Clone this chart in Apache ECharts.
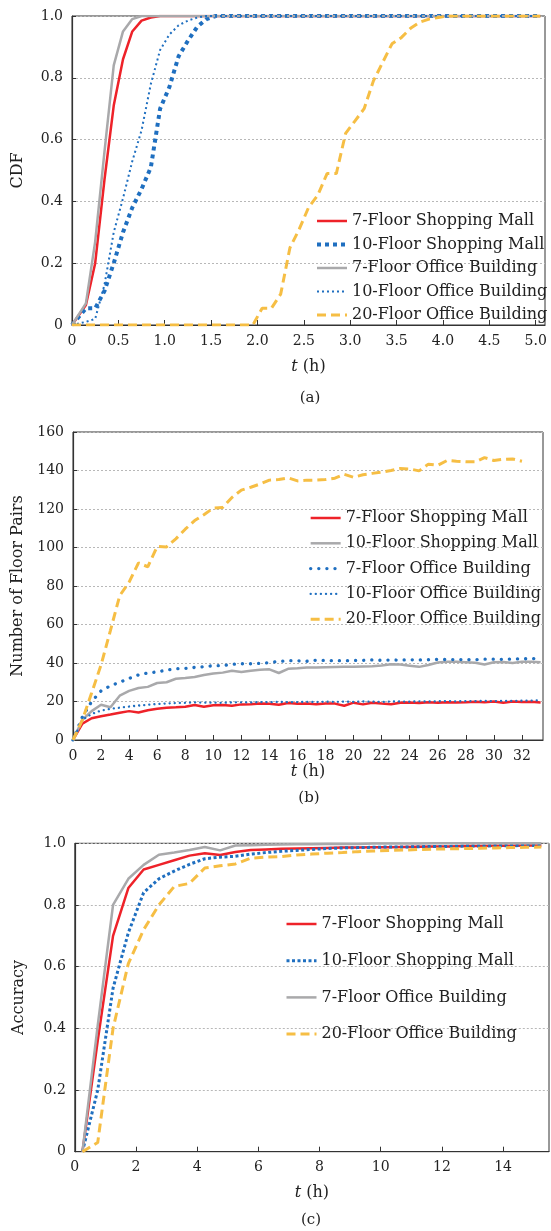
<!DOCTYPE html>
<html>
<head>
<meta charset="utf-8">
<script src="https://cdn.jsdelivr.net/npm/echarts@6/dist/echarts.min.js"></script>
<style>
    html, body { margin: 0; padding: 0; background: #fff; }
    #main { width: 551px; height: 1231px; }
</style>
</head>
<body>
<div id="main"></div>
<script>
    // (a) CDF
    var tA = [0, 0.15, 0.25, 0.35, 0.45, 0.55, 0.65, 0.75, 0.85, 0.95,
        1.05, 1.15, 1.25, 1.35, 1.45, 1.55, 1.65, 1.75, 1.85, 1.95,
        2.05, 2.15, 2.25, 2.35, 2.45, 2.55, 2.65, 2.75, 2.85, 2.95,
        3.05, 3.15, 3.25, 3.35, 3.45, 3.55, 3.65, 3.75, 3.85, 3.95,
        4.05, 4.15, 4.25, 4.35, 4.45, 4.55, 4.65, 4.75, 4.85, 4.95,
        5.05];
    var mall7A = [0, 0.065, 0.2, 0.47, 0.71, 0.86, 0.95, 0.985, 0.995, 1,
        1, 1, 1, 1, 1, 1, 1, 1, 1, 1,
        1, 1, 1, 1, 1, 1, 1, 1, 1, 1,
        1, 1, 1, 1, 1, 1, 1, 1, 1, 1,
        1, 1, 1, 1, 1, 1, 1, 1, 1, 1,
        1];
    var mall10A = [0, 0.054, 0.054, 0.11, 0.2, 0.3, 0.38, 0.44, 0.51, 0.7,
        0.77, 0.87, 0.92, 0.965, 0.99, 1, 1, 1, 1, 1,
        1, 1, 1, 1, 1, 1, 1, 1, 1, 1,
        1, 1, 1, 1, 1, 1, 1, 1, 1, 1,
        1, 1, 1, 1, 1, 1, 1, 1, 1, 1,
        1];
    var office7A = [0, 0.07, 0.27, 0.56, 0.84, 0.95, 0.99, 1, 1, 1,
        1, 1, 1, 1, 1, 1, 1, 1, 1, 1,
        1, 1, 1, 1, 1, 1, 1, 1, 1, 1,
        1, 1, 1, 1, 1, 1, 1, 1, 1, 1,
        1, 1, 1, 1, 1, 1, 1, 1, 1, 1,
        1];
    var office10A = [0, 0.01, 0.02, 0.13, 0.3, 0.41, 0.53, 0.63, 0.78, 0.89,
        0.94, 0.97, 0.985, 0.995, 1, 1, 1, 1, 1, 1,
        1, 1, 1, 1, 1, 1, 1, 1, 1, 1,
        1, 1, 1, 1, 1, 1, 1, 1, 1, 1,
        1, 1, 1, 1, 1, 1, 1, 1, 1, 1,
        1];
    var office20A = [0, 0, 0, 0, 0, 0, 0, 0, 0, 0,
        0, 0, 0, 0, 0, 0, 0, 0, 0, 0,
        0.054, 0.054, 0.1, 0.25, 0.31, 0.38, 0.42, 0.49, 0.49, 0.62,
        0.66, 0.7, 0.79, 0.85, 0.91, 0.93, 0.96, 0.98, 0.99, 0.995,
        1, 1, 1, 1, 1, 1, 1, 1, 1, 1,
        1];

    // (b) Number of Floor Pairs
    var tB = [0, 0.67, 1.33, 2, 2.67, 3.33, 4, 4.67, 5.33, 6,
        6.67, 7.33, 8, 8.67, 9.33, 10, 10.67, 11.33, 12, 12.67,
        13.33, 14, 14.67, 15.33, 16, 16.67, 17.33, 18, 18.67, 19.33,
        20, 20.67, 21.33, 22, 22.67, 23.33, 24, 24.67, 25.33, 26,
        26.67, 27.33, 28, 28.67, 29.33, 30, 30.67, 31.33, 32, 32.67,
        33.33];
    var mall7B = [0, 8.5, 11.3, 12.3, 13.2, 14.2, 15, 14.3, 15.5, 16.2,
        16.8, 17, 17.3, 18.2, 17.3, 18, 18.2, 17.8, 18.5, 18.6,
        19, 18.8, 18.3, 19.2, 18.8, 19, 18.6, 19, 18.9, 17.8,
        19.4, 18.5, 19.3, 18.9, 18.6, 19.4, 19.5, 19.2, 19.6, 19.3,
        19.6, 19.5, 19.6, 19.9, 19.6, 20, 19.3, 20, 19.8, 19.9,
        19.5];
    var mall10B = [0, 10.5, 15, 18.3, 17, 23, 25.5, 27, 27.6, 29.6,
        30, 31.8, 32.2, 32.7, 33.8, 34.6, 35, 36, 35.3, 36,
        36.5, 36.7, 34.8, 37, 37.3, 37.7, 37.6, 37.8, 37.9, 38,
        38, 38.2, 38.3, 38.7, 39.3, 39.2, 38.6, 38, 39, 40.3,
        40.6, 40.6, 40.4, 40.1, 39.2, 40.4, 40.5, 40, 40.6, 40.7,
        40.4];
    var office7B = [0, 12, 20, 25.5, 28.2, 30, 32, 33.8, 34.8, 35.4,
        36.3, 37, 37.2, 37.7, 38.1, 38.6, 38.6, 39.3, 39.6, 39.6,
        39.8, 40.2, 40.8, 41.2, 41.2, 40.9, 41.4, 41.3, 41.2, 41.2,
        41.3, 41.4, 41.6, 41.4, 41.6, 41.5, 41.7, 41.6, 41.7, 41.9,
        41.8, 41.8, 41.8, 41.7, 42, 42, 41.9, 42.1, 42.2, 42.2,
        42.5];
    var office10B = [0, 10.5, 13.5, 15.3, 16.2, 16.8, 17.4, 17.9, 18.3, 18.7,
        19, 19.2, 19.3, 19.5, 19.4, 19.4, 19.3, 19.5, 19.6, 19.5,
        19.7, 19.6, 19.8, 19.6, 19.7, 19.8, 19.7, 19.9, 19.8, 19.9,
        19.8, 20, 19.9, 19.8, 20, 20, 19.9, 20.1, 20, 20.1,
        20.2, 20.1, 20.2, 20.2, 20.3, 20.2, 20.3, 20.3, 20.4, 20.5,
        20.6];
    var office20B = [0, 10.5, 24.5, 39, 57, 75, 82, 92, 90, 100.5,
        100.3, 104.5, 109.5, 114, 117, 120.5, 120.8, 126, 129.8, 131.3,
        133, 135, 135.3, 136.2, 134.6, 135, 135, 135.3, 136, 138,
        136.5, 137.8, 138.5, 139.2, 140, 141, 140.8, 139.8, 143.3, 142.7,
        145.2, 144.8, 144.5, 144.5, 146.7, 145.2, 145.8, 146, 144.8, null,
        null];

    // (c) Accuracy
    var tC = [0.25, 0.75, 1.25, 1.75, 2.25, 2.75, 3.25, 3.75, 4.25, 4.75,
        5.25, 5.75, 6.25, 6.75, 7.25, 7.75, 8.25, 8.75, 9.25, 9.75,
        10.25, 10.75, 11.25, 11.75, 12.25, 12.75, 13.25, 13.75, 14.25, 14.75,
        15.25];
    var mall7C = [0, 0.36, 0.7, 0.855, 0.915, 0.93, 0.945, 0.96, 0.968, 0.962,
        0.972, 0.978, 0.98, 0.982, 0.983, 0.984, 0.985, 0.986, 0.986, 0.987,
        0.987, 0.988, 0.989, 0.99, 0.99, 0.991, 0.991, 0.992, 0.992, 0.993,
        0.993];
    var mall10C = [0, 0.2, 0.53, 0.71, 0.84, 0.885, 0.91, 0.932, 0.95, 0.955,
        0.958, 0.965, 0.97, 0.974, 0.977, 0.98, 0.983, 0.985, 0.986, 0.987,
        0.988, 0.988, 0.989, 0.99, 0.99, 0.991, 0.991, 0.992, 0.992, 0.993,
        0.993];
    var office7C = [0, 0.41, 0.8, 0.885, 0.93, 0.963, 0.97, 0.978, 0.988, 0.977,
        0.993, 0.994, 0.995, 0.996, 0.997, 0.997, 0.998, 0.998, 0.998, 0.999,
        0.999, 0.999, 0.999, 1, 1, 1, 1, 1, 1, 1,
        1];
    var office20C = [0, 0.03, 0.4, 0.61, 0.72, 0.8, 0.86, 0.87, 0.92, 0.927,
        0.933, 0.952, 0.955, 0.957, 0.962, 0.965, 0.968, 0.97, 0.973, 0.975,
        0.977, 0.978, 0.98, 0.981, 0.982, 0.983, 0.984, 0.985, 0.986, 0.987,
        0.988];

    var FONT = 'DejaVu Serif',
        INK = '#222',
        RED = '#ee2229',
        BLUE = '#1f6fc0',
        GREY = '#a9a9ab',
        YELLOW = '#f6be44';

    function pairs(t, v) {
        return t.map(function (x, i) {
            return [x, v[i]];
        });
    }

    function oneDec(v) {
        return v === 0 ? '0' : v.toFixed(1);
    }

    function xAxis(idx, max, interval, fmt, gap) {
        return {
            type: 'value', gridIndex: idx, min: 0, max: max, interval: interval,
            name: '{i|t} (h)', nameLocation: 'middle', nameGap: gap,
            nameTextStyle: {
                fontFamily: FONT, fontSize: 16, color: INK,
                rich: { i: { fontFamily: FONT, fontSize: 16, fontStyle: 'italic', color: INK } }
            },
            axisLine: { show: true, lineStyle: { color: '#333', width: 1.2 } },
            axisTick: { show: true, inside: true, length: 5, lineStyle: { color: '#333' } },
            axisLabel: { fontFamily: FONT, fontSize: 14, color: INK, margin: 9, formatter: fmt, showMaxLabel: false },
            splitLine: { show: false }
        };
    }

    function yAxis(idx, max, interval, fmt, name, gap) {
        return {
            type: 'value', gridIndex: idx, min: 0, max: max, interval: interval,
            name: name, nameLocation: 'middle', nameGap: gap,
            nameTextStyle: { fontFamily: FONT, fontSize: 16, color: INK },
            axisLine: { show: true, lineStyle: { color: '#333', width: 1.2 } },
            axisTick: { show: true, inside: true, length: 4, lineStyle: { color: '#333' } },
            axisLabel: { fontFamily: FONT, fontSize: 14, color: INK, margin: 9, formatter: fmt },
            splitLine: { show: true, lineStyle: { color: '#b8b8b8', type: [2, 2], width: 1 } }
        };
    }

    function line(panel, name, idx, t, v, color, width, dash, cap) {
        return {
            name: panel + '|' + name, type: 'line',
            xAxisIndex: idx, yAxisIndex: idx,
            data: pairs(t, v),
            symbol: 'none', silent: true,
            lineStyle: { color: color, width: width, type: dash, cap: cap || 'butt' },
            itemStyle: { color: color }
        };
    }

    function legend(panel, names, left, top, gap) {
        return {
            orient: 'vertical', left: left, top: top, itemGap: gap,
            itemWidth: 30, itemHeight: 10, selectedMode: false,
            // only the line, no marker in the middle
            itemStyle: { opacity: 0, borderWidth: 0 },
            lineStyle: { width: 'inherit' },
            data: names.map(function (n) { return panel + '|' + n; }),
            formatter: function (n) { return n.split('|')[1]; },
            textStyle: { fontFamily: FONT, fontSize: 16, color: INK, lineHeight: 18 }
        };
    }

    var chart = echarts.init(document.getElementById('main'));

    chart.setOption({
        animation: false,
        backgroundColor: '#fff',
        grid: [
            { left: 72, top: 16, right: 6, height: 309, show: true, borderColor: '#333', borderWidth: 1 },
            { left: 73, top: 432, right: 8, height: 308, show: true, borderColor: '#333', borderWidth: 1 },
            { left: 74.8, top: 843.3, right: 2, height: 308.4, show: true, borderColor: '#333', borderWidth: 1 }
        ],
        xAxis: [
            xAxis(0, 5.1, 0.5, oneDec, 34),
            xAxis(1, 33.5, 2, null, 24),
            xAxis(2, 15.5, 2, null, 33)
        ],
        yAxis: [
            yAxis(0, 1, 0.2, oneDec, 'CDF', 46),
            yAxis(1, 160, 20, null, 'Number of Floor Pairs', 47),
            yAxis(2, 1, 0.2, oneDec, 'Accuracy', 48)
        ],
        legend: [
            legend('a', ['7-Floor Shopping Mall', '10-Floor Shopping Mall', '7-Floor Office Building',
                '10-Floor Office Building', '20-Floor Office Building'], 310, 207, 5.5),
            legend('b', ['7-Floor Shopping Mall', '10-Floor Shopping Mall', '7-Floor Office Building',
                '10-Floor Office Building', '20-Floor Office Building'], 304, 504, 7.3),
            legend('c', ['7-Floor Shopping Mall', '10-Floor Shopping Mall', '7-Floor Office Building',
                '20-Floor Office Building'], 280, 910, 18.7)
        ],
        graphic: [
            { type: 'text', x: 310, y: 398, style: { text: '(a)', font: '15px "DejaVu Serif"', fill: INK, align: 'center', verticalAlign: 'middle' } },
            { type: 'text', x: 309, y: 798, style: { text: '(b)', font: '15px "DejaVu Serif"', fill: INK, align: 'center', verticalAlign: 'middle' } },
            { type: 'text', x: 311, y: 1220, style: { text: '(c)', font: '15px "DejaVu Serif"', fill: INK, align: 'center', verticalAlign: 'middle' } }
        ],
        series: [
            // (a)
            line('a', '7-Floor Shopping Mall', 0, tA, mall7A, RED, 2.5, 'solid'),
            line('a', '10-Floor Shopping Mall', 0, tA, mall10A, BLUE, 4, [4, 4]),
            line('a', '7-Floor Office Building', 0, tA, office7A, GREY, 2.5, 'solid'),
            line('a', '10-Floor Office Building', 0, tA, office10A, BLUE, 2, [2, 3]),
            line('a', '20-Floor Office Building', 0, tA, office20A, YELLOW, 3, [9, 5]),
            // (b)
            line('b', '7-Floor Shopping Mall', 1, tB, mall7B, RED, 2.5, 'solid'),
            line('b', '10-Floor Shopping Mall', 1, tB, mall10B, GREY, 2.5, 'solid'),
            line('b', '7-Floor Office Building', 1, tB, office7B, BLUE, 3.3, [0.1, 8], 'round'),
            line('b', '10-Floor Office Building', 1, tB, office10B, BLUE, 2.3, [0.1, 5], 'round'),
            line('b', '20-Floor Office Building', 1, tB, office20B, YELLOW, 3, [9, 5]),
            // (c)
            line('c', '7-Floor Shopping Mall', 2, tC, mall7C, RED, 2.5, 'solid'),
            line('c', '10-Floor Shopping Mall', 2, tC, mall10C, BLUE, 3, [3, 2.5]),
            line('c', '7-Floor Office Building', 2, tC, office7C, GREY, 2.5, 'solid'),
            line('c', '20-Floor Office Building', 2, tC, office20C, YELLOW, 3, [9, 5])
        ]
    });
</script>
</body>
</html>
